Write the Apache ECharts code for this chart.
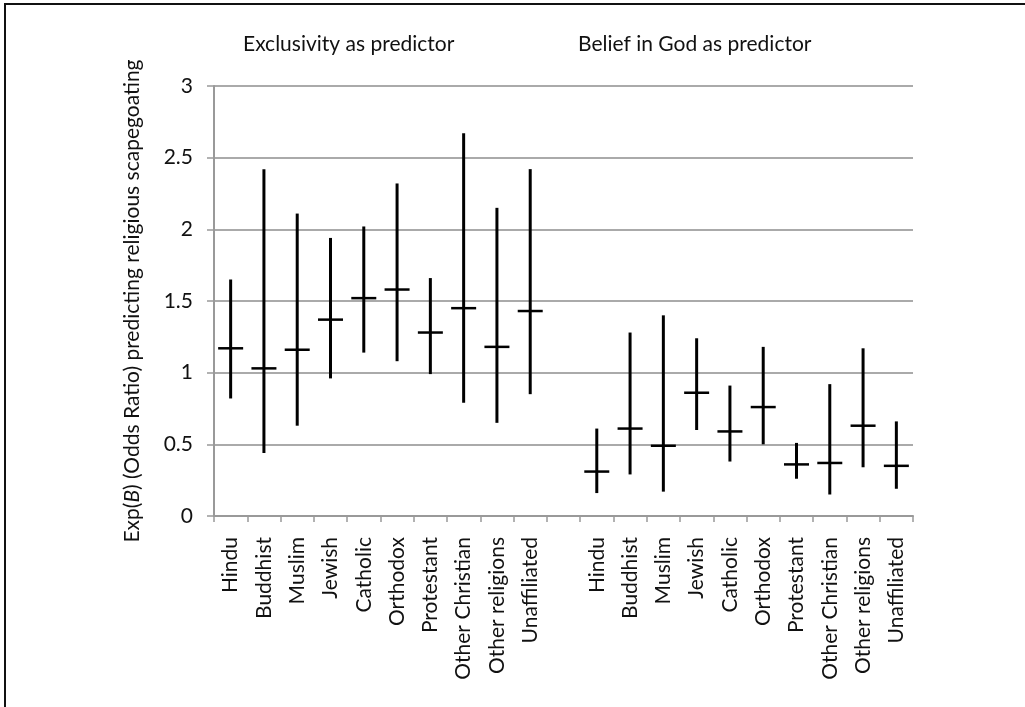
<!DOCTYPE html>
<html>
<head>
<meta charset="utf-8">
<script src="https://cdn.jsdelivr.net/npm/echarts@6/dist/echarts.min.js"></script>
<style>
html,body{margin:0;padding:0;background:#fff;}
#chart{width:1025px;height:707px;}
</style>
</head>
<body>
<div id="chart"></div>
<script>
// Categories (10 for each predictor, blank slot between groups)
const religions = ['Hindu','Buddhist','Muslim','Jewish','Catholic','Orthodox','Protestant','Other Christian','Other religions','Unaffiliated'];
const categories = religions.concat(['']).concat(religions);

// Exclusivity as predictor: point estimate, lower, upper
const exclMid  = [1.17, 1.03, 1.16, 1.37, 1.52, 1.58, 1.28, 1.45, 1.18, 1.43];
const exclLow  = [0.82, 0.44, 0.63, 0.96, 1.14, 1.08, 0.99, 0.79, 0.65, 0.85];
const exclHigh = [1.65, 2.42, 2.11, 1.94, 2.02, 2.32, 1.66, 2.67, 2.15, 2.42];

// Belief in God as predictor: point estimate, lower, upper
const godMid  = [0.31, 0.61, 0.49, 0.86, 0.59, 0.76, 0.36, 0.37, 0.63, 0.35];
const godLow  = [0.16, 0.29, 0.17, 0.60, 0.38, 0.50, 0.26, 0.15, 0.34, 0.19];
const godHigh = [0.61, 1.28, 1.40, 1.24, 0.91, 1.18, 0.51, 0.92, 1.17, 0.66];

const yTicks = [0, 0.5, 1, 1.5, 2, 2.5, 3];

const data = [];
religions.forEach((r, i) => data.push([i, exclMid[i], exclLow[i], exclHigh[i]]));
religions.forEach((r, i) => data.push([i + 11, godMid[i], godLow[i], godHigh[i]]));

const FONT = 'Lato';
const FS = 21;

const chart = echarts.init(document.getElementById('chart'), null, {renderer: 'canvas'});
chart.setOption({
  backgroundColor: '#fff',
  animation: false,
  textStyle: {fontFamily: FONT},
  grid: {left: 214, right: 112, top: 86, bottom: 191, containLabel: false},
  xAxis: {
    type: 'category',
    data: categories,
    boundaryGap: true,
    axisLine: {show: true, lineStyle: {color: '#999', width: 2}},
    axisTick: {show: true, interval: 0, length: 6, lineStyle: {color: '#999', width: 1.5}},
    axisLabel: {interval: 0, rotate: 90, margin: 21, color: '#111', fontSize: FS, fontFamily: FONT},
    splitLine: {show: false}
  },
  yAxis: {
    type: 'value',
    min: yTicks[0], max: yTicks[yTicks.length - 1], interval: 0.5,
    name: 'Exp({i|B}) (Odds Ratio) predicting religious scapegoating',
    nameLocation: 'middle', nameRotate: 90, nameGap: 71,
    nameTextStyle: {color: '#111', fontSize: FS, fontFamily: FONT,
      rich: {i: {fontStyle: 'italic', fontSize: FS, fontFamily: FONT, color: '#111'}}},
    axisLine: {show: true, lineStyle: {color: '#999', width: 2}},
    axisTick: {show: true, length: 7, lineStyle: {color: '#999', width: 1.5}},
    axisLabel: {margin: 21, color: '#111', fontSize: FS, fontFamily: FONT,
      formatter: v => String(v)},
    splitLine: {show: true, lineStyle: {color: '#aaa', width: 2}}
  },
  series: [{
    type: 'custom',
    data: data,
    encode: {x: 0, y: [1, 2, 3]},
    renderItem: function (params, api) {
      const x = api.value(0);
      const mid = api.coord([x, api.value(1)]);
      const lo = api.coord([x, api.value(2)]);
      const hi = api.coord([x, api.value(3)]);
      return {
        type: 'group',
        children: [
          {type: 'line', shape: {x1: lo[0], y1: lo[1], x2: hi[0], y2: hi[1]},
           style: {stroke: '#000', lineWidth: 3}},
          {type: 'line', shape: {x1: mid[0] - 12.5, y1: mid[1], x2: mid[0] + 12.5, y2: mid[1]},
           style: {stroke: '#000', lineWidth: 2.5}}
        ]
      };
    }
  }],
  graphic: [
    {type: 'line', shape: {x1: 4, y1: 4, x2: 1025, y2: 4}, style: {stroke: '#111', lineWidth: 2}},
    {type: 'line', shape: {x1: 5, y1: 4, x2: 5, y2: 707}, style: {stroke: '#111', lineWidth: 2}},
    {type: 'text', left: 243, top: 34, style: {text: 'Exclusivity as predictor', fill: '#111', font: FS + 'px ' + FONT}},
    {type: 'text', left: 578, top: 34, style: {text: 'Belief in God as predictor', fill: '#111', font: FS + 'px ' + FONT}}
  ]
});
</script>
</body>
</html>
